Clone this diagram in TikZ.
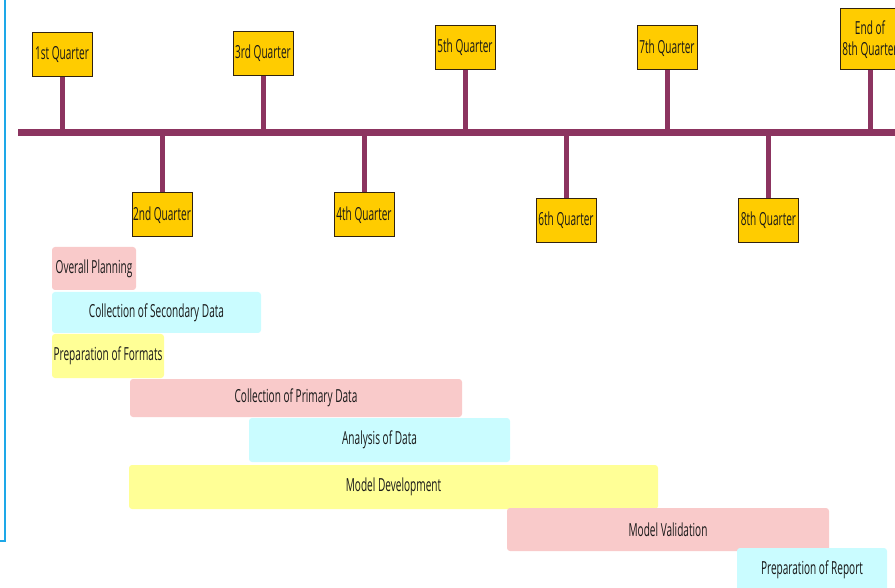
\documentclass[tikz,border=0pt]{standalone}
\usepackage{fontspec}
\setmainfont{Open Sans}[FakeStretch=0.56]
\definecolor{tlcol}{RGB}{140,52,96}
\definecolor{qfill}{RGB}{255,204,0}
\definecolor{qdraw}{RGB}{50,35,15}
\definecolor{pinkbar}{RGB}{249,202,202}
\definecolor{cyanbar}{RGB}{202,252,255}
\definecolor{yellowbar}{RGB}{255,255,150}
\definecolor{frameblue}{RGB}{30,168,232}
\definecolor{txt}{RGB}{25,25,25}
\tikzset{
  qbox/.style={draw=qdraw, line width=1pt, fill=qfill, minimum width=60pt, minimum height=44pt, inner sep=0pt, align=center, text=txt, font=\fontsize{18}{21}\selectfont},
  stem/.style={draw=tlcol, line width=5pt},
  tline/.style={draw=tlcol, line width=7pt},
  bar/.style={rounded corners=3pt, inner sep=0pt, text=txt, font=\fontsize{18}{21}\selectfont},
  pinkb/.style={bar, fill=pinkbar},
  cyanb/.style={bar, fill=cyanbar},
  yellowb/.style={bar, fill=yellowbar},
}
\begin{document}
\begin{tikzpicture}[x=1pt,y=-1pt]
\useasboundingbox (0,0) rectangle (895,588);
\clip (0,0) rectangle (895,588);
% frame corner
\coordinate (ft) at (5,0);
\coordinate (fc) at (5,541);
\coordinate (fl) at (0,541);
\draw[frameblue, line width=2pt] (ft) -- (fc) -- (fl);
% timeline
\coordinate (tlA) at (18,133);
\coordinate (tlB) at (895,133);
% quarter boxes
\node[qbox] (q1) at (62,55) {1st Quarter};
\node[qbox] (q3) at (263,53.5) {3rd Quarter};
\node[qbox] (q5) at (465,47.5) {5th Quarter};
\node[qbox] (q7) at (667,48) {7th Quarter};
\node[qbox, minimum height=61pt] (qe) at (870,39.5) {End of\\8th Quarter};
\node[qbox] (q2) at (162,215) {2nd Quarter};
\node[qbox] (q4) at (364,215) {4th Quarter};
\node[qbox] (q6) at (566,220.5) {6th Quarter};
\node[qbox] (q8) at (768.5,220.5) {8th Quarter};
% stems
\foreach \q in {q1,q3,q5,q7,qe}{
  \draw[stem] (\q.south) -- (\q.south |- tlA);
}
\foreach \q in {q2,q4,q6,q8}{
  \draw[stem] (\q.north) -- (\q.north |- tlA);
}
\draw[tline] (tlA) -- (tlB);
% activity bars
\node[pinkb, minimum width=84pt, minimum height=43pt] (op) at (94,268.5) {Overall Planning};
\node[cyanb, minimum width=209pt, minimum height=41pt] (csd) at (156.5,312.5) {Collection of Secondary Data};
\node[yellowb, minimum width=112pt, minimum height=44pt] (pf) at (108,356) {Preparation of Formats};
\node[pinkb, minimum width=332pt, minimum height=38pt] (cpd) at (296,398) {Collection of Primary Data};
\node[cyanb, minimum width=261pt, minimum height=44pt] (ad) at (379.5,440) {Analysis of Data};
\node[yellowb, minimum width=529pt, minimum height=44pt] (md) at (393.5,487) {Model Development};
\node[pinkb, minimum width=322pt, minimum height=43pt] (mv) at (668,529.5) {Model Validation};
\node[cyanb, minimum width=150pt, minimum height=44pt] (pr) at (812,570) {Preparation of Report};
\end{tikzpicture}
\end{document}
